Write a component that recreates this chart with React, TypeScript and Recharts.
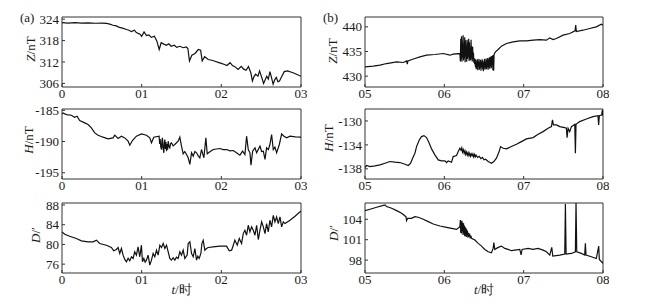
import { LineChart, Line, XAxis, YAxis, ReferenceArea } from "recharts";

const FONT = '"Liberation Serif", "Times New Roman", serif';
const INK = "#1a1a1a";

// time in hours, value in nT (Z, H) or arc-minutes (D)
const zLeft: [number, number][] = [
  [0, 323.0], [0.08, 322.9], [0.16, 323.05], [0.25, 322.9], [0.33, 322.95], [0.42, 322.85],
  [0.5, 322.9], [0.56, 322.8], [0.6, 322.6], [0.64, 322.3], [0.68, 322.1], [0.72, 321.7],
  [0.76, 321.5], [0.81, 321.1], [0.84, 320.9], [0.87, 320.5], [0.91, 320.9], [0.93, 320.3],
  [0.955, 320.0], [0.98, 319.8], [1.0, 319.2], [1.03, 320.4], [1.06, 319.4], [1.09, 319.6],
  [1.12, 318.9], [1.16, 319.2], [1.19, 317.9], [1.22, 315.5], [1.245, 317.4], [1.28, 317.0],
  [1.31, 316.7], [1.34, 317.1], [1.37, 316.4], [1.41, 316.7], [1.44, 316.1], [1.48, 316.4],
  [1.52, 316.0], [1.56, 316.2], [1.58, 315.8], [1.6, 312.3], [1.63, 313.9], [1.67, 314.4],
  [1.71, 315.5], [1.74, 315.3], [1.76, 312.3], [1.79, 313.5], [1.835, 312.7], [1.88, 312.5],
  [1.92, 312.2], [1.96, 311.9], [2.0, 311.6], [2.04, 311.3], [2.07, 311.0], [2.11, 311.8],
  [2.14, 311.0], [2.17, 310.7], [2.21, 309.9], [2.25, 310.8], [2.28, 310.0], [2.31, 309.7],
  [2.34, 310.7], [2.37, 309.0], [2.39, 306.7], [2.41, 307.9], [2.43, 308.6], [2.46, 308.0],
  [2.48, 309.5], [2.51, 307.5], [2.53, 306.0], [2.57, 308.0], [2.59, 307.2], [2.61, 309.3],
  [2.63, 307.6], [2.65, 305.8], [2.67, 307.0], [2.69, 307.7], [2.71, 306.5], [2.73, 306.7],
  [2.76, 308.0], [2.79, 309.3], [2.83, 309.5], [2.9, 309.0], [2.95, 308.5], [3.0, 308.0],
];

const hLeft: [number, number][] = [
  [0.0, -185.6], [0.013, -185.43], [0.054, -185.69], [0.117, -185.8], [0.159, -186.12], [0.189, -185.96],
  [0.222, -186.65], [0.285, -187.02], [0.327, -187.29], [0.369, -187.82], [0.411, -188.62], [0.453, -188.99],
  [0.515, -189.31], [0.578, -189.58], [0.641, -189.42], [0.662, -188.99], [0.704, -189.52], [0.746, -189.15],
  [0.788, -189.42], [0.83, -189.95], [0.851, -190.59], [0.884, -189.84], [0.934, -189.15], [0.997, -188.78],
  [1.06, -188.99], [1.102, -189.42], [1.123, -190.21], [1.152, -189.31], [1.219, -189.15], [1.226, -190.4],
  [1.232, -189.6], [1.24, -190.9], [1.249, -191.28], [1.255, -189.8], [1.261, -189.42], [1.268, -191.0],
  [1.278, -191.81], [1.284, -190.2], [1.291, -189.68], [1.298, -191.2], [1.305, -190.1], [1.312, -191.54],
  [1.32, -190.4], [1.326, -191.3], [1.333, -189.95], [1.343, -190.8], [1.353, -191.01], [1.364, -190.3],
  [1.374, -190.21], [1.395, -190.7], [1.416, -190.48], [1.437, -190.2], [1.458, -189.95], [1.479, -189.31], [1.5, -190.75],
  [1.521, -191.97], [1.542, -191.6], [1.563, -192.08], [1.584, -192.61], [1.605, -193.67], [1.626, -191.81], [1.647, -192.34],
  [1.668, -191.6], [1.689, -191.81], [1.71, -192.3], [1.73, -192.61], [1.751, -191.28], [1.781, -192.61], [1.806, -189.42], [1.823, -191.97],
  [1.856, -191.65], [1.898, -191.28], [1.94, -191.2], [1.982, -191.12], [2.024, -191.3], [2.066, -191.28], [2.108, -191.5], [2.15, -191.44], [2.191, -191.81],
  [2.233, -192.18], [2.267, -191.54], [2.296, -192.08], [2.317, -189.15], [2.338, -191.28], [2.359, -191.81],
  [2.372, -193.78], [2.393, -191.54], [2.422, -191.01], [2.443, -191.81], [2.485, -190.75], [2.506, -191.6], [2.527, -191.54],
  [2.548, -192.87], [2.568, -191.01], [2.59, -191.3], [2.61, -190.48], [2.631, -188.88], [2.652, -191.28], [2.673, -190.9], [2.694, -191.81],
  [2.728, -190.48], [2.757, -188.78], [2.786, -189.15], [2.82, -189.42], [2.862, -189.15], [2.93, -189.25], [3.0, -189.31],
];

const dLeft: [number, number][] = [
  [0, 82.54], [0.034, 82.07], [0.096, 81.66], [0.18, 81.19], [0.243, 80.72], [0.327, 80.52],
  [0.39, 80.52], [0.432, 80.86], [0.473, 80.18], [0.557, 79.84], [0.62, 79.37], [0.649, 78.7],
  [0.683, 78.97], [0.704, 79.37], [0.725, 78.16], [0.746, 79.17], [0.767, 77.82], [0.788, 76.95],
  [0.809, 76.47], [0.83, 77.2], [0.851, 76.68], [0.872, 77.5], [0.892, 77.15], [0.913, 78.5], [0.934, 77.82], [0.955, 79.51],
  [0.976, 77.49], [0.997, 79.84], [1.01, 76.47], [1.027, 77.15], [1.044, 76.4], [1.06, 76.81], [1.081, 77.82],
  [1.102, 75.8], [1.123, 76.81], [1.144, 78.16], [1.165, 77.49], [1.186, 78.83], [1.207, 77.82],
  [1.228, 79.84], [1.249, 79.37], [1.27, 80.18], [1.291, 79.17], [1.312, 79.84], [1.333, 78.5],
  [1.353, 77.15], [1.374, 76.81], [1.395, 77.3], [1.416, 76.81], [1.437, 77.4], [1.458, 77.15], [1.479, 78.5], [1.5, 77.82],
  [1.521, 78.83], [1.542, 77.15], [1.571, 77.82], [1.584, 80.18], [1.605, 80.52], [1.626, 78.16],
  [1.647, 77.49], [1.668, 79.17], [1.689, 76.81], [1.705, 77.6], [1.722, 77.15], [1.743, 78.16], [1.756, 80.18],
  [1.772, 80.86], [1.793, 78.83], [1.814, 79.17], [1.835, 79.37], [1.898, 79.51], [1.982, 79.64],
  [2.066, 79.64], [2.099, 78.7], [2.129, 78.83], [2.15, 79.84], [2.17, 80.86], [2.2, 79.84],
  [2.225, 81.19], [2.254, 80.18], [2.275, 82.2], [2.296, 82.88], [2.317, 81.87], [2.338, 83.89],
  [2.359, 82.54], [2.38, 83.55], [2.401, 82.88], [2.422, 81.87], [2.443, 83.89], [2.464, 80.99],
  [2.485, 82.88], [2.506, 84.56], [2.527, 83.55], [2.548, 82.2], [2.568, 84.23], [2.589, 82.54],
  [2.61, 84.9], [2.631, 83.55], [2.652, 85.91], [2.673, 84.56], [2.694, 85.57], [2.715, 84.23],
  [2.736, 85.57], [2.757, 83.55], [2.778, 84.56], [2.799, 84.23], [2.862, 84.9], [2.925, 85.71],
  [3.0, 86.79],
];

const zRight: [number, number][] = [
  [5.0, 431.89], [5.105, 432.02], [5.189, 432.23], [5.273, 432.56], [5.399, 432.9], [5.483, 432.77],
  [5.525, 433.1], [5.533, 432.43], [5.541, 433.1], [5.629, 433.58], [5.692, 433.92], [5.776, 434.25],
  [5.881, 434.39], [5.986, 434.59], [6.07, 434.25], [6.112, 434.46], [6.196, 434.59],
  [6.202, 433.0], [6.207, 437.6], [6.212, 433.4], [6.217, 438.1], [6.222, 432.9], [6.227, 437.0],
  [6.232, 433.8], [6.237, 438.3], [6.242, 433.2], [6.247, 436.5], [6.252, 433.6], [6.257, 437.9],
  [6.262, 432.8], [6.267, 437.3], [6.272, 434.0], [6.277, 436.2], [6.282, 432.9], [6.287, 437.4],
  [6.292, 433.5], [6.297, 436.8], [6.302, 433.9], [6.307, 437.6], [6.312, 433.1], [6.317, 436.9],
  [6.322, 433.4], [6.327, 435.8], [6.332, 433.2], [6.337, 437.4], [6.342, 433.6], [6.347, 436.1],
  [6.352, 433.0], [6.357, 435.9], [6.362, 433.5], [6.367, 434.8], [6.372, 432.7], [6.377, 433.6],
  [6.382, 432.4], [6.387, 433.5], [6.392, 431.8], [6.397, 433.3], [6.402, 431.4], [6.407, 432.9],
  [6.412, 431.6], [6.417, 433.4], [6.422, 431.2], [6.427, 433.0], [6.432, 432.0], [6.437, 433.5],
  [6.442, 431.3], [6.447, 432.8], [6.452, 431.7], [6.457, 433.3], [6.462, 431.1], [6.467, 432.9],
  [6.472, 431.9], [6.477, 433.4], [6.482, 431.4], [6.487, 433.1], [6.492, 431.0], [6.497, 432.7],
  [6.502, 431.8], [6.507, 433.5], [6.512, 431.3], [6.517, 432.9], [6.522, 431.6], [6.527, 433.6],
  [6.532, 431.4], [6.537, 433.2], [6.542, 431.9], [6.547, 433.7], [6.552, 431.3], [6.557, 433.4],
  [6.562, 431.8], [6.567, 433.8], [6.572, 431.5], [6.577, 433.9], [6.582, 432.0], [6.587, 434.0],
  [6.592, 431.6], [6.597, 434.1], [6.602, 432.2], [6.607, 434.2], [6.612, 431.2], [6.617, 434.3],
  [6.622, 431.1], [6.627, 434.4], [6.632, 434.6], [6.645, 434.93], [6.678, 435.4],
  [6.72, 436.08], [6.783, 436.62], [6.867, 436.96], [6.951, 437.16], [7.035, 437.16], [7.119, 437.3],
  [7.203, 437.43], [7.287, 437.3], [7.329, 437.77], [7.371, 437.43], [7.413, 437.63], [7.497, 438.31],
  [7.581, 438.65], [7.648, 439.19], [7.656, 440.34], [7.664, 439.05], [7.748, 439.32], [7.832, 439.66],
  [7.916, 440.0], [7.979, 440.54], [8.0, 440.34],
];

const hRight: [number, number][] = [
  [5.0, -137.78], [5.021, -137.45], [5.063, -137.62], [5.126, -137.51], [5.189, -137.34], [5.252, -137.06],
  [5.315, -136.78], [5.378, -136.89], [5.441, -136.95], [5.504, -137.23], [5.545, -137.45], [5.575, -137.06],
  [5.6, -136.23], [5.629, -135.39], [5.65, -134.28], [5.684, -133.17], [5.713, -132.61], [5.743, -132.45],
  [5.776, -132.78], [5.81, -133.73], [5.839, -134.67], [5.881, -135.67], [5.923, -136.51], [5.965, -136.67],
  [6.007, -136.67], [6.028, -136.95], [6.049, -136.67], [6.091, -136.89], [6.112, -135.95], [6.154, -135.78],
  [6.175, -135.12], [6.196, -134.56], [6.21, -134.9], [6.22, -134.5], [6.23, -135.2], [6.24, -134.8],
  [6.25, -135.4], [6.26, -135.0], [6.27, -135.6], [6.28, -135.2], [6.29, -135.7], [6.3, -135.3],
  [6.31, -135.8], [6.32, -135.4], [6.33, -135.9], [6.34, -135.5], [6.35, -135.8], [6.36, -135.5],
  [6.37, -136.0], [6.38, -135.6], [6.39, -136.0], [6.4, -135.7], [6.42, -136.1], [6.44, -135.9],
  [6.46, -136.3], [6.48, -136.1], [6.5, -136.5], [6.52, -136.4], [6.553, -136.78], [6.594, -137.06],
  [6.624, -136.78], [6.657, -136.23], [6.691, -135.12], [6.708, -134.28], [6.741, -134.56], [6.783, -134.67],
  [6.846, -134.28], [6.909, -133.89], [6.972, -133.45], [7.035, -133.0], [7.119, -132.78], [7.182, -132.22],
  [7.245, -131.78], [7.308, -131.22], [7.35, -130.95], [7.363, -129.83], [7.375, -130.67], [7.413, -130.67],
  [7.455, -130.95], [7.518, -131.11], [7.539, -131.22], [7.547, -132.78], [7.56, -131.22], [7.581, -131.78],
  [7.602, -130.95], [7.644, -130.56], [7.652, -135.39], [7.66, -130.56], [7.706, -130.11], [7.79, -129.67],
  [7.874, -129.28], [7.937, -129.11], [7.945, -130.67], [7.954, -129.11], [7.983, -129.0], [7.992, -128.17],
  [8.0, -129.11],
];

const dRight: [number, number][] = [
  [5.0, 105.28], [5.063, 105.48], [5.147, 105.77], [5.21, 105.97], [5.252, 106.12], [5.273, 105.87],
  [5.336, 105.62], [5.399, 105.28], [5.462, 104.89], [5.516, 104.39], [5.524, 103.8], [5.537, 104.15],
  [5.587, 104.15], [5.629, 104.39], [5.671, 104.3], [5.734, 104.0], [5.797, 103.66], [5.86, 103.31],
  [5.944, 103.02], [6.028, 102.82], [6.091, 102.67], [6.154, 102.52], [6.196, 102.92],
  [6.202, 103.9], [6.207, 102.0], [6.212, 103.7], [6.217, 101.9], [6.222, 103.8], [6.227, 102.2],
  [6.232, 103.5], [6.237, 101.7], [6.242, 103.4], [6.247, 101.9], [6.252, 103.1], [6.257, 101.5],
  [6.262, 102.9], [6.267, 101.6], [6.272, 102.7], [6.277, 101.4], [6.282, 102.5], [6.287, 101.7],
  [6.292, 102.3], [6.297, 101.3], [6.302, 102.0], [6.31, 101.4], [6.318, 101.9], [6.326, 101.2],
  [6.334, 101.6], [6.343, 101.2], [6.385, 100.95], [6.427, 100.46], [6.469, 100.06],
  [6.511, 99.57], [6.553, 99.23], [6.594, 99.08], [6.615, 99.72], [6.624, 100.56], [6.636, 99.57],
  [6.678, 99.87], [6.72, 100.06], [6.762, 99.72], [6.804, 99.57], [6.846, 99.38], [6.888, 99.47],
  [6.951, 99.57], [6.968, 98.78], [6.98, 99.57], [7.056, 99.72], [7.119, 99.57], [7.182, 99.72],
  [7.245, 99.47], [7.287, 99.23], [7.329, 98.74], [7.354, 99.87], [7.367, 98.59], [7.455, 98.74],
  [7.518, 98.88], [7.526, 106.26], [7.535, 98.88], [7.602, 98.98], [7.652, 99.23], [7.66, 106.46],
  [7.669, 99.23], [7.727, 98.98], [7.769, 98.74], [7.778, 100.46], [7.786, 98.74], [7.853, 98.49],
  [7.916, 98.24], [7.946, 100.06], [7.954, 98.1], [7.992, 97.6], [8.0, 97.75],
];

const hoursLeft = [0, 1, 2, 3];
const hoursRight = [5, 6, 7, 8];
const zLeftTicks = [306, 312, 318, 324];
const hLeftTicks = [-195, -190, -185];
const dLeftTicks = [76, 80, 84, 88];
const zRightTicks = [430, 435, 440];
const hRightTicks = [-138, -134, -130];
const dRightTicks = [98, 101, 104];

const AXW = 50;
const TOP = 10;
const RIGHT = 6;
const XH = 28;

const fmtHour = (v: number) => (v === 0 ? "0" : "0" + v);

interface PanelProps {
  x: number;
  y: number;
  w: number;
  h: number;
  data: [number, number][];
  xDomain: [number, number];
  xTicks: number[];
  yDomain: [number, number];
  yTicks: number[];
  sym: string;
  unit: string;
  titleDx: number;
  titleDy: number;
  tag?: string;
  xTitle?: boolean;
}

function Panel(p: PanelProps) {
  const rows = p.data.map(([t, v]) => ({ t, v }));
  const tickStyle = { fill: INK, fontSize: 13, fontFamily: FONT };

  const yTitle = () => {
    const cx = AXW - p.titleDx;
    const cy = TOP + p.h / 2 + p.titleDy;
    return (
      <g>
        {p.tag && (
          <text x={AXW - 42} y={TOP + 5} fontSize={13} fontFamily={FONT} fill={INK}>
            {p.tag}
          </text>
        )}
        <text
          x={cx}
          y={cy}
          transform={`rotate(-90, ${cx}, ${cy})`}
          textAnchor="middle"
          dominantBaseline="central"
          fontSize={13}
          fontFamily={FONT}
          fill={INK}
        >
          <tspan fontStyle="italic">{p.sym}</tspan>
          {p.unit}
        </text>
      </g>
    );
  };

  const xTitle = () => (
    <text
      x={AXW + p.w / 2}
      y={TOP + p.h + 16}
      textAnchor="middle"
      dominantBaseline="central"
      fontSize={13}
      fontFamily={FONT}
      fill={INK}
    >
      <tspan fontStyle="italic">t</tspan>/时
    </text>
  );

  return (
    <div style={{ position: "absolute", left: p.x - AXW, top: p.y - TOP }}>
      <LineChart
        width={AXW + p.w + RIGHT}
        height={TOP + p.h + XH}
        data={rows}
        margin={{ top: TOP, right: RIGHT, bottom: 0, left: 0 }}
      >
        <XAxis
          type="number"
          dataKey="t"
          domain={p.xDomain}
          ticks={p.xTicks}
          interval={0}
          allowDataOverflow
          tickFormatter={fmtHour}
          height={XH}
          axisLine={false}
          tickSize={-3}
          tickMargin={5}
          tickLine={{ stroke: "#333" }}
          tick={tickStyle}
          label={p.xTitle ? { content: xTitle } : undefined}
        />
        <YAxis
          type="number"
          domain={p.yDomain}
          ticks={p.yTicks}
          interval={0}
          allowDataOverflow
          width={AXW}
          axisLine={false}
          tickSize={-3}
          tickMargin={6}
          tickLine={{ stroke: "#333" }}
          tick={tickStyle}
          label={{ content: yTitle }}
        />
        <ReferenceArea
          x1={p.xDomain[0]}
          x2={p.xDomain[1]}
          y1={p.yDomain[0]}
          y2={p.yDomain[1]}
          fill="none"
          stroke="#333"
          strokeWidth={1}
        />
        <Line
          type="linear"
          dataKey="v"
          stroke="#111"
          strokeWidth={1.2}
          dot={false}
          isAnimationActive={false}
        />
      </LineChart>
    </div>
  );
}

export default function App() {
  return (
    <div style={{ position: "absolute", left: 0, top: 0, width: 658, height: 305, background: "#fff" }}>
      <Panel x={62} y={17} w={239} h={70} data={zLeft} xDomain={[0, 3]} xTicks={hoursLeft}
        yDomain={[305, 324.6]} yTicks={zLeftTicks} sym="Z" unit="/nT" titleDx={32} titleDy={-3} tag="(a)" />
      <Panel x={62} y={109} w={239} h={70} data={hLeft} xDomain={[0, 3]} xTicks={hoursLeft}
        yDomain={[-196, -184.8]} yTicks={hLeftTicks} sym="H" unit="/nT" titleDx={34} titleDy={-4} />
      <Panel x={62} y={203} w={239} h={70} data={dLeft} xDomain={[0, 3]} xTicks={hoursLeft}
        yDomain={[74.2, 88.4]} yTicks={dLeftTicks} sym="D" unit="/′" titleDx={27} titleDy={-3} xTitle />
      <Panel x={365} y={17} w={238} h={70} data={zRight} xDomain={[5, 8]} xTicks={hoursRight}
        yDomain={[427.8, 442]} yTicks={zRightTicks} sym="Z" unit="/nT" titleDx={33} titleDy={-1} tag="(b)" />
      <Panel x={365} y={109} w={238} h={70} data={hRight} xDomain={[5, 8]} xTicks={hoursRight}
        yDomain={[-139.7, -128]} yTicks={hRightTicks} sym="H" unit="/nT" titleDx={37} titleDy={-6} />
      <Panel x={365} y={203} w={238} h={70} data={dRight} xDomain={[5, 8]} xTicks={hoursRight}
        yDomain={[96.1, 106.4]} yTicks={dRightTicks} sym="D" unit="/′" titleDx={32} titleDy={-5} xTitle />
    </div>
  );
}
